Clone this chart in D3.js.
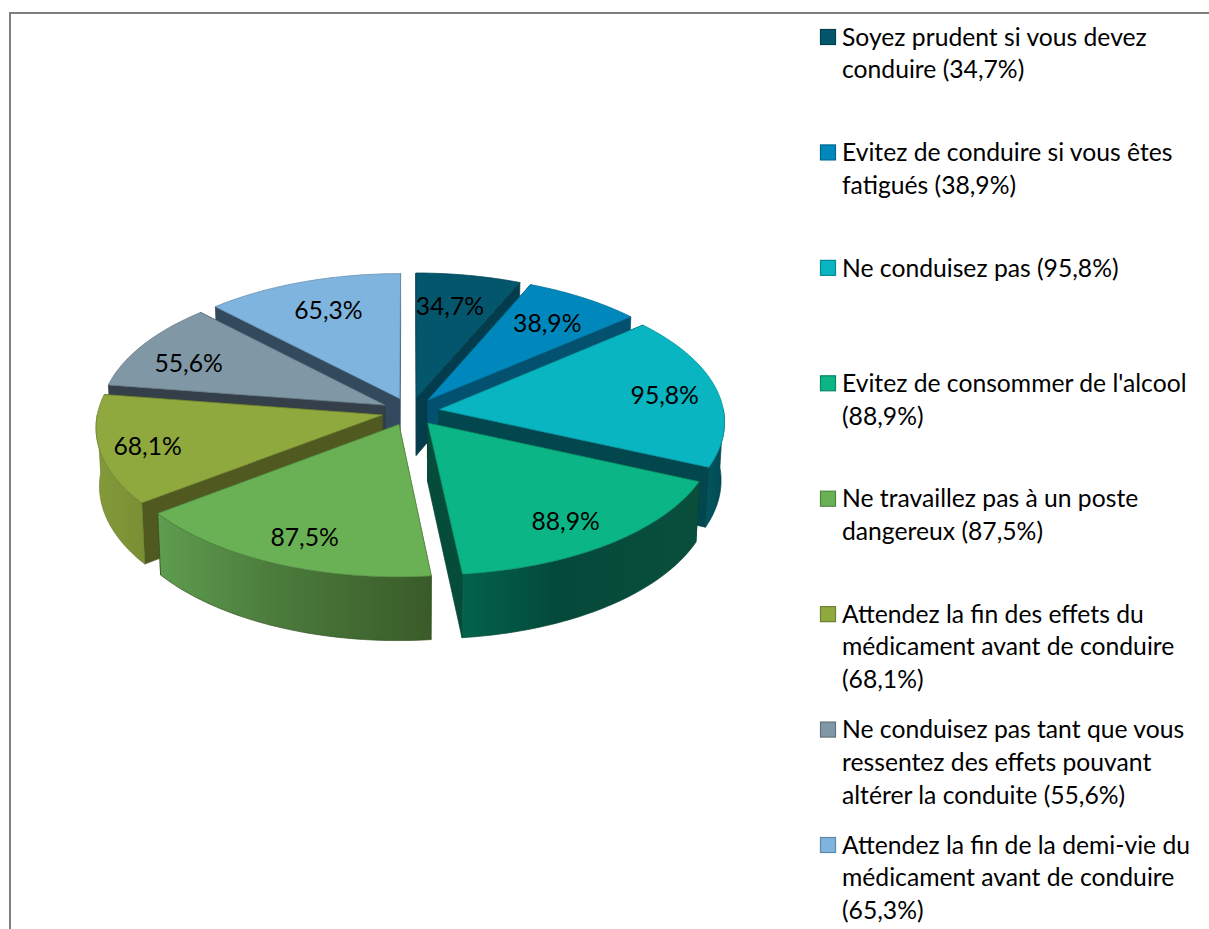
<!DOCTYPE html>
<html>
<head>
<meta charset="utf-8">
<script src="https://cdn.jsdelivr.net/npm/d3@7"></script>
<style>
  html, body { margin: 0; padding: 0; background: #fff; overflow: hidden; }
  svg { display: block; }
  text { font-family: Lato, "Open Sans", sans-serif; fill: #000; }
</style>
</head>
<body>
<svg id="chart" width="1209" height="929"></svg>
<script>
// values as printed on the chart, clockwise from the top
const values = [34.7, 38.9, 95.8, 88.9, 87.5, 68.1, 55.6, 65.3];
const valueLabels = ["34,7%", "38,9%", "95,8%", "88,9%", "87,5%", "68,1%", "55,6%", "65,3%"];
const legendLines = [
  ["Soyez prudent si vous devez", "conduire (34,7%)"],
  ["Evitez de conduire si vous êtes", "fatigués (38,9%)"],
  ["Ne conduisez pas (95,8%)"],
  ["Evitez de consommer de l'alcool", "(88,9%)"],
  ["Ne travaillez pas à un poste", "dangereux (87,5%)"],
  ["Attendez la fin des effets du", "médicament avant de conduire", "(68,1%)"],
  ["Ne conduisez pas tant que vous", "ressentez des effets pouvant", "altérer la conduite (55,6%)"],
  ["Attendez la fin de la demi-vie du", "médicament avant de conduire", "(65,3%)"]
];
const topColors = ["#04566c", "#0088bd", "#08b5c1", "#0cb586", "#6ab155", "#8fa93f", "#8098a6", "#7fb4de"];
const wallColors = ["#033c4d", "#04506f", "#02474e", "#064c3a", "#3f612c", "#50591f", "#343f4a", "#334a5e"];
// outer wall shading, left / middle / right
const outerLeft = ["#03485c", "#046a92", "#02565e", "#03634d", "#5f9d4f", "#83993a", "#6a7f8b", "#6a96b8"];
const outerMid = ["#03485c", "#046a92", "#02505a", "#04493a", "#4c7d3d", "#7f9537", "#6a7f8b", "#6a96b8"];
const outerRight = ["#03485c", "#046a92", "#024a52", "#0a4f3c", "#395b28", "#7a8f34", "#6a7f8b", "#6a96b8"];

const cx = 410.5, cy = 411.5; // pie centre on screen
const R = 284.5;              // slice radius
const explode = 29;           // slice pull-out
const tilt = 0.483;           // vertical squash of the disc
const persp = 0.083;          // perspective strength
const thick = 58;             // wall height
const labelR = 0.76 * R;
// best-fit placement of the value labels, px away from the default spot
const labelNudge = [[-7, 3], [-1, 2], [14, 1], [2, 8], [-2, 9], [-21, 5], [-11, 5], [4, 2]];

const svg = d3.select("#chart");
const defs = svg.append("defs");

// chart frame, runs off the right and bottom of the picture
svg.append("path")
  .attr("d", d3.line()([[10, 929], [10, 13], [1209, 13]]))
  .attr("fill", "none")
  .attr("stroke", "#7f7f7f")
  .attr("stroke-width", 2);

const arcs = d3.pie().sort(null)(values);

// plane coordinates -> screen, z goes 0 (top face) to 1 (bottom face)
function project(d, a, r, z) {
  const mid = (d.startAngle + d.endAngle) / 2;
  const x = r * Math.sin(a) + explode * Math.sin(mid);
  const y = r * Math.cos(a) + explode * Math.cos(mid);
  const s = 1 / (1 + persp * y / R);
  return [cx + x * s * (1 - 0.011 * z), cy - y * tilt * s + thick * z * s];
}

const line = d3.line();
const sweep = (a0, a1) => d3.range(0, 49).map(i => a0 + (a1 - a0) * i / 48);

const order = arcs.map((d, i) => i)
  .sort((p, q) => Math.cos((arcs[q].startAngle + arcs[q].endAngle) / 2) - Math.cos((arcs[p].startAngle + arcs[p].endAngle) / 2));

const pie = svg.append("g");
order.forEach(i => {
  const d = arcs[i];
  const g = pie.append("g");

  const walls = [d.startAngle, d.endAngle].map(a => ({
    depth: Math.cos(a),
    pts: [project(d, a, 0, 0), project(d, a, R, 0), project(d, a, R, 1), project(d, a, 0, 1)]
  })).sort((p, q) => q.depth - p.depth);

  walls.forEach(w => {
    g.append("path")
      .attr("d", line(w.pts) + "Z")
      .attr("fill", wallColors[i])
      .attr("stroke", d3.color(wallColors[i]).darker(0.3))
      .attr("stroke-width", 0.7);
  });

  // outer wall, only the part that faces the viewer
  const a0 = Math.max(d.startAngle, Math.PI / 2);
  const a1 = Math.min(d.endAngle, 3 * Math.PI / 2);
  if (a1 > a0) {
    const angles = sweep(a0, a1);
    const upper = angles.map(a => project(d, a, R, 0));
    const lower = angles.map(a => project(d, a, R, 1));
    const gradId = "outer" + i;
    const xs = d3.extent(upper.concat(lower), p => p[0]);
    const grad = defs.append("linearGradient")
      .attr("id", gradId)
      .attr("gradientUnits", "userSpaceOnUse")
      .attr("x1", xs[0]).attr("x2", xs[1]).attr("y1", 0).attr("y2", 0);
    grad.append("stop").attr("offset", "0%").attr("stop-color", outerLeft[i]);
    grad.append("stop").attr("offset", "40%").attr("stop-color", outerMid[i]);
    grad.append("stop").attr("offset", "100%").attr("stop-color", outerRight[i]);

    g.append("path")
      .attr("d", line(upper.concat(lower.slice().reverse())) + "Z")
      .attr("fill", `url(#${gradId})`)
      .attr("stroke", d3.color(outerRight[i]).darker(0.3))
      .attr("stroke-width", 0.7);
  }

  const topArc = sweep(d.startAngle, d.endAngle).map(a => project(d, a, R, 0));
  g.append("path")
    .attr("d", line([project(d, d.startAngle, 0, 0)].concat(topArc)) + "Z")
    .attr("fill", topColors[i])
    .attr("stroke", d3.color(topColors[i]).darker(0.6))
    .attr("stroke-width", 0.8);
});

// value labels
svg.append("g").selectAll("text")
  .data(arcs)
  .join("text")
  .attr("x", (d, i) => project(d, (d.startAngle + d.endAngle) / 2, labelR, 0)[0] + labelNudge[i][0])
  .attr("y", (d, i) => project(d, (d.startAngle + d.endAngle) / 2, labelR, 0)[1] + labelNudge[i][1])
  .attr("dy", "0.35em")
  .attr("text-anchor", "middle")
  .attr("font-size", 24.7)
  .text((d, i) => valueLabels[i]);

// legend
const legendY = d3.scaleLinear().domain([0, 7]).range([37, 845]);
const legend = svg.append("g").selectAll("g")
  .data(legendLines)
  .join("g")
  .attr("transform", (d, i) => `translate(820,${legendY(i)})`);

legend.append("rect")
  .attr("x", 0.5).attr("y", -7.5)
  .attr("width", 15).attr("height", 15)
  .attr("fill", (d, i) => topColors[i])
  .attr("stroke", (d, i) => d3.color(topColors[i]).darker(0.8))
  .attr("stroke-width", 1.2);

legend.selectAll("text")
  .data(d => d)
  .join("text")
  .attr("x", 22)
  .attr("y", (d, j) => j * 32.7)
  .attr("dy", "0.35em")
  .attr("font-size", 24.7)
  .text(d => d);
</script>
</body>
</html>
